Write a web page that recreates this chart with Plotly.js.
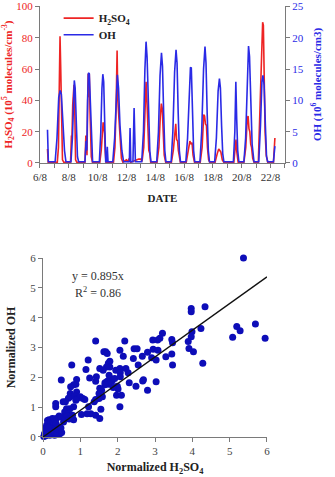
<!DOCTYPE html>
<html>
<head>
<meta charset="utf-8">
<script src="https://cdn.plot.ly/plotly-3.0.1.min.js"></script>
<style>html,body{margin:0;padding:0;background:#fff;}#chart{width:335px;height:477px;}</style>
</head>
<body>
<div id="chart"></div>
<script>
// ---- Top panel: time series (day of August, value) ----
const dateTickVals = [6, 8, 10, 12, 14, 16, 18, 20, 22];
const dateTickText = ['6/8', '8/8', '10/8', '12/8', '14/8', '16/8', '18/8', '20/8', '22/8'];

// H2SO4 (10^5 molecules/cm3)
const h2so4Points = [
  [6.52, 9], [6.57, 0.5], [7.2, 0.5], [7.28, 10], [7.34, 50], [7.39, 81], [7.44, 60], [7.5, 20], [7.56, 2], [7.65, 0.5],
  [8.12, 0.5], [8.18, 17], [8.22, 17], [8.27, 37], [8.36, 50], [8.4, 40], [8.44, 20], [8.47, 2], [8.55, 0.5],
  [9.12, 0.5], [9.18, 17], [9.22, 17], [9.26, 5], [9.3, 40], [9.34, 57], [9.38, 42], [9.42, 57], [9.48, 30], [9.56, 4], [9.64, 0.5],
  [10.15, 0.5], [10.25, 8], [10.33, 20], [10.38, 26], [10.44, 22], [10.48, 19], [10.52, 8], [10.58, 0.5],
  [11.1, 0.5], [11.2, 10], [11.28, 35], [11.35, 72], [11.4, 40], [11.47, 30], [11.55, 15], [11.65, 3], [11.75, 0.5],
  [12.0, 2], [12.1, 1], [12.2, 3], [12.3, 0.5], [12.85, 2.5], [13.0, 2.5], [13.08, 1],
  [13.2, 10], [13.3, 40], [13.36, 52], [13.42, 40], [13.5, 15], [13.55, 8], [13.62, 6], [13.68, 0.5],
  [14.12, 0.5], [14.25, 10], [14.35, 30], [14.42, 38], [14.48, 35], [14.55, 18], [14.62, 5], [14.72, 0.5],
  [15.12, 0.5], [15.25, 8], [15.36, 22], [15.42, 25], [15.48, 15], [15.55, 14], [15.6, 8], [15.66, 3], [15.74, 0.5],
  [16.15, 0.5], [16.3, 8], [16.4, 14], [16.48, 12], [16.55, 13], [16.62, 5], [16.72, 0.5],
  [17.12, 0.5], [17.25, 10], [17.36, 31], [17.42, 30], [17.48, 25], [17.55, 24], [17.62, 10], [17.7, 2], [17.78, 0.5],
  [18.15, 0.5], [18.3, 6], [18.4, 9], [18.48, 8], [18.55, 7], [18.65, 2], [18.75, 0.5],
  [19.45, 0.5], [19.55, 10], [19.6, 15], [19.66, 7], [19.75, 0.5],
  [20.15, 0.5], [20.28, 10], [20.38, 28], [20.44, 30], [20.5, 22], [20.56, 20], [20.62, 12], [20.68, 10], [20.76, 3], [20.85, 0.5],
  [21.15, 0.5], [21.22, 20], [21.27, 40], [21.32, 42], [21.38, 70], [21.45, 90], [21.5, 88], [21.56, 50], [21.62, 20], [21.7, 5], [21.8, 0.5],
  [22.2, 0.5], [22.25, 10], [22.3, 16]
];

// OH (10^6 molecules/cm3)
const ohPoints = [
  [6.52, 5.3], [6.58, 0.2], [7.05, 0.2], [7.18, 4], [7.3, 10.5], [7.4, 11.6], [7.48, 11], [7.58, 7], [7.7, 2], [7.8, 0.2],
  [8.15, 0.2], [8.25, 4], [8.33, 11], [8.38, 13.2], [8.44, 12], [8.52, 6], [8.6, 1], [8.68, 0.2],
  [9.12, 0.2], [9.2, 3.5], [9.25, 2], [9.3, 10], [9.36, 14.4], [9.42, 14.3], [9.5, 8], [9.58, 2], [9.65, 0.2],
  [10.12, 0.2], [10.22, 5], [10.3, 12], [10.36, 14.2], [10.42, 13], [10.48, 7], [10.56, 0.2],
  [10.62, 0.2], [10.67, 2.6], [10.72, 0.2],
  [11.05, 0.2], [11.18, 4], [11.3, 12], [11.37, 14.1], [11.45, 12], [11.55, 6], [11.68, 2], [11.8, 0.2],
  [12.2, 0.2], [12.25, 5.6], [12.3, 0.2], [12.45, 0.2], [12.53, 8.8], [12.62, 0.2],
  [13.06, 0.2], [13.18, 5], [13.28, 15], [13.36, 19.4], [13.43, 17], [13.52, 9], [13.62, 2], [13.7, 0.2],
  [14.1, 0.2], [14.22, 5], [14.33, 14], [14.43, 17.6], [14.5, 15.5], [14.58, 8], [14.66, 2], [14.74, 0.2],
  [15.1, 0.2], [15.22, 5], [15.34, 14.5], [15.44, 18.1], [15.51, 16], [15.59, 8], [15.67, 2], [15.75, 0.2],
  [16.12, 0.2], [16.24, 4], [16.36, 13], [16.44, 15.3], [16.5, 15.2], [16.58, 8], [16.66, 2], [16.74, 0.2],
  [17.1, 0.2], [17.22, 5], [17.35, 15], [17.45, 18.6], [17.52, 16], [17.6, 8], [17.68, 2], [17.76, 0.2],
  [18.12, 0.2], [18.24, 4], [18.36, 11.5], [18.45, 13.5], [18.52, 12], [18.6, 6], [18.68, 1.5], [18.76, 0.2],
  [19.42, 0.2], [19.52, 5], [19.59, 13], [19.65, 7], [19.72, 2], [19.8, 0.2],
  [20.15, 0.2], [20.27, 4], [20.38, 14], [20.47, 18.7], [20.54, 17], [20.62, 9], [20.72, 3], [20.85, 0.2],
  [21.18, 0.2], [21.3, 6], [21.4, 13], [21.47, 14], [21.55, 12.5], [21.64, 6], [21.72, 1], [21.8, 0.2],
  [22.2, 0.2], [22.3, 2.7]
];

// ---- Bottom panel: normalized H2SO4 vs normalized OH ----
const normPoints = [
  [5.37, 6.0], [4.34, 4.37], [3.97, 4.31], [3.97, 4.2], [4.23, 3.64], [5.08, 3.34], [5.19, 3.70], [5.28, 3.56], [5.69, 3.79], [5.95, 3.31],
  [4.28, 2.47], [4.03, 2.86], [3.99, 3.53], [3.97, 3.36], [3.89, 3.20], [3.91, 2.97],
  [3.20, 3.48], [3.13, 3.31], [3.07, 3.25], [3.45, 3.27], [3.47, 3.16], [3.45, 2.78], [3.47, 2.41],
  [2.94, 3.25], [2.95, 2.94], [3.08, 2.91], [2.44, 2.96], [2.52, 2.96], [2.19, 3.22], [1.41, 3.22],
  [2.06, 2.91], [2.15, 2.71], [2.91, 2.66], [3.03, 2.58], [3.29, 2.69], [2.80, 2.84], [2.66, 2.71], [2.42, 2.63],
  [1.68, 2.86], [1.63, 2.86], [1.72, 2.80], [1.21, 2.58], [1.79, 2.54], [1.75, 2.47], [0.77, 2.41],
  [1.79, 2.35], [1.70, 2.35], [1.52, 2.30], [1.61, 2.24], [1.95, 2.24], [2.06, 2.30], [2.07, 2.15],
  [2.22, 2.30], [2.55, 2.41], [1.15, 2.26], [1.25, 1.98], [1.43, 2.02], [1.41, 1.87],
  [1.77, 2.07], [1.81, 1.96], [1.85, 1.88], [1.92, 1.96], [1.72, 1.87], [1.66, 1.82], [1.77, 1.77], [1.66, 1.75],
  [2.28, 2.15], [2.07, 2.02], [2.31, 1.82], [2.49, 1.70], [2.69, 1.92], [2.67, 1.88], [3.03, 1.85], [2.80, 1.57],
  [1.99, 1.70], [2.01, 1.61], [1.97, 1.40], [2.10, 1.40], [2.06, 1.01],
  [1.88, 1.66], [1.52, 1.63], [1.57, 1.57], [1.50, 1.46], [1.59, 1.35], [1.50, 1.29], [1.55, 0.93], [1.52, 0.62],
  [0.49, 1.91], [0.90, 1.93], [0.88, 1.77], [0.82, 1.75], [0.74, 1.68],
  [0.90, 1.51], [0.73, 1.46], [0.73, 1.35], [0.85, 1.37], [0.91, 1.29], [1.00, 1.35], [1.07, 1.29],
  [0.68, 1.30], [0.88, 1.23], [1.12, 1.26], [1.41, 1.26], [1.37, 1.18],
  [1.22, 1.01], [1.28, 0.78], [1.18, 0.78], [1.03, 0.75], [1.41, 0.73],
  [0.82, 1.01], [0.60, 1.18], [0.54, 1.18], [0.34, 1.12], [0.34, 1.01],
  [0.72, 0.95], [0.63, 0.95], [0.58, 0.84], [0.67, 0.78], [0.82, 0.58], [0.79, 0.73],
  [0.43, 0.70], [0.36, 0.62], [0.49, 0.67], [0.16, 0.58], [0.25, 0.62], [0.18, 0.45], [0.22, 0.50],
  [0.09, 0.34], [0.13, 0.22], [0.04, 0.11], [0.27, 0.22], [0.36, 0.17], [0.43, 0.22], [0.31, 0.39], [0.40, 0.34],
  [0.04, 0.06], [0.18, 0.06], [0.31, 0.06], [0.45, 0.11], [0.22, 0.17], [0.27, 0.31], [0.07, 0.25],
  [0.02, 0.02], [0.05, 0.03], [0.08, 0.05], [0.10, 0.12], [0.12, 0.08], [0.15, 0.10], [0.20, 0.15], [0.22, 0.25],
  [0.25, 0.20], [0.30, 0.28], [0.32, 0.15], [0.35, 0.30], [0.38, 0.12], [0.42, 0.25], [0.48, 0.30], [0.50, 0.15],
  [0.10, 0.40], [0.12, 0.55], [0.20, 0.55], [0.28, 0.50], [0.30, 0.60], [0.15, 0.30], [0.06, 0.10], [0.35, 0.45],
  [0.55, 0.50], [0.60, 0.62], [0.65, 0.70], [0.70, 0.60]
];
const fitX = [0, 6];
const fitY = [0, 5.37];
const fitLabel = 'y = 0.895x';
const r2Label = 'R<sup>2</sup> = 0.86';

const serif = 'Liberation Serif';
const RED = '#ee2424';
const BLUE = '#2a2ae6';
const AXIS = '#7a7a7a';

const traces = [
  {
    x: h2so4Points.map(p => p[0]), y: h2so4Points.map(p => p[1]),
    type: 'scatter', mode: 'lines', name: '<b>H<sub>2</sub>SO<sub>4</sub></b>',
    line: {color: RED, width: 1.6}, xaxis: 'x', yaxis: 'y', legend: 'legend'
  },
  {
    x: ohPoints.map(p => p[0]), y: ohPoints.map(p => p[1]),
    type: 'scatter', mode: 'lines', name: '<b>OH</b>',
    line: {color: BLUE, width: 1.6}, xaxis: 'x', yaxis: 'y2', legend: 'legend2'
  },
  {
    x: normPoints.map(p => p[0]), y: normPoints.map(p => p[1]),
    type: 'scatter', mode: 'markers', showlegend: false, cliponaxis: false,
    marker: {color: '#0d0db8', size: 7}, xaxis: 'x2', yaxis: 'y3'
  },
  {
    x: fitX, y: fitY, type: 'scatter', mode: 'lines', showlegend: false,
    line: {color: '#111', width: 1.4}, xaxis: 'x2', yaxis: 'y3'
  }
];

const tickf = (c) => ({family: serif, size: 11, color: c});
const legendStyle = (yy) => ({x: 0.175, y: yy, xanchor: 'left', yanchor: 'middle', bgcolor: 'rgba(0,0,0,0)',
  font: {family: serif, size: 11, color: '#222'}, borderwidth: 0});

const layout = {
  width: 335, height: 477,
  margin: {l: 0, r: 0, t: 0, b: 0},
  paper_bgcolor: '#fff', plot_bgcolor: '#fff',
  font: {family: serif, size: 11, color: '#222'},
  showlegend: true,
  legend: legendStyle(0.962),
  legend2: legendStyle(0.927),
  xaxis: {
    domain: [0.1194, 0.8507], anchor: 'y', range: [6, 23],
    tickmode: 'array', tickvals: dateTickVals, ticktext: dateTickText,
    ticks: 'outside', ticklen: 4, tickcolor: AXIS, ticklabeloverflow: 'allow',
    minor: {dtick: 1, tick0: 6, ticks: 'outside', ticklen: 4, tickcolor: AXIS},
    showline: true, linecolor: AXIS, linewidth: 1, showgrid: false, zeroline: false,
    tickfont: tickf('#333'),
    title: {text: '<b>DATE</b>', font: {family: serif, size: 11, color: '#222'}, standoff: 12}
  },
  yaxis: {
    domain: [0.6583, 0.9874], anchor: 'x', range: [0, 100.4], tickvals: [0, 20, 40, 60, 80, 100],
    ticks: 'outside', ticklen: 4, tickcolor: AXIS, ticklabeloverflow: 'allow',
    showline: true, linecolor: AXIS, showgrid: false, zeroline: false,
    tickfont: tickf(RED),
    title: {text: '<b>H<sub>2</sub>SO<sub>4</sub> (10<sup>5</sup> molecules/cm<sup>-3</sup>)</b>',
            font: {family: serif, size: 11, color: RED}, standoff: 4}
  },
  yaxis2: {
    overlaying: 'y', side: 'right', anchor: 'x', range: [0, 25.1], tickvals: [0, 5, 10, 15, 20, 25],
    ticks: 'outside', ticklen: 4, tickcolor: AXIS, ticklabeloverflow: 'allow',
    showline: true, linecolor: AXIS, showgrid: false, zeroline: false,
    tickfont: tickf(BLUE),
    title: {text: '<b>OH (10<sup>6</sup> molecules/cm3)</b>',
            font: {family: serif, size: 11, color: BLUE}, standoff: 10}
  },
  xaxis2: {
    domain: [0.1284, 0.797], anchor: 'y3', range: [0, 6], dtick: 1,
    ticks: 'outside', ticklen: 4, tickcolor: AXIS, ticklabeloverflow: 'allow',
    showline: true, linecolor: AXIS, showgrid: false, zeroline: false,
    tickfont: tickf('#444'),
    title: {text: '<b>Normalized H<sub>2</sub>SO<sub>4</sub></b>', font: {family: serif, size: 12, color: '#222'}, standoff: 6}
  },
  yaxis3: {
    domain: [0.0839, 0.4591], anchor: 'x2', range: [0, 6], dtick: 1,
    ticks: 'outside', ticklen: 4, tickcolor: AXIS, ticklabeloverflow: 'allow',
    showline: true, linecolor: AXIS, showgrid: false, zeroline: false,
    tickfont: tickf('#444'),
    title: {text: '<b>Normalized OH</b>', font: {family: serif, size: 12, color: '#222'}, standoff: 12}
  },
  annotations: [
    {xref: 'x2', yref: 'y3', x: 1.47, y: 5.4, text: fitLabel, showarrow: false,
     font: {family: serif, size: 12, color: '#333'}},
    {xref: 'x2', yref: 'y3', x: 1.47, y: 4.83, text: r2Label, showarrow: false,
     font: {family: serif, size: 12, color: '#333'}}
  ]
};

Plotly.newPlot('chart', traces, layout, {displayModeBar: false, staticPlot: true});
</script>
</body>
</html>
